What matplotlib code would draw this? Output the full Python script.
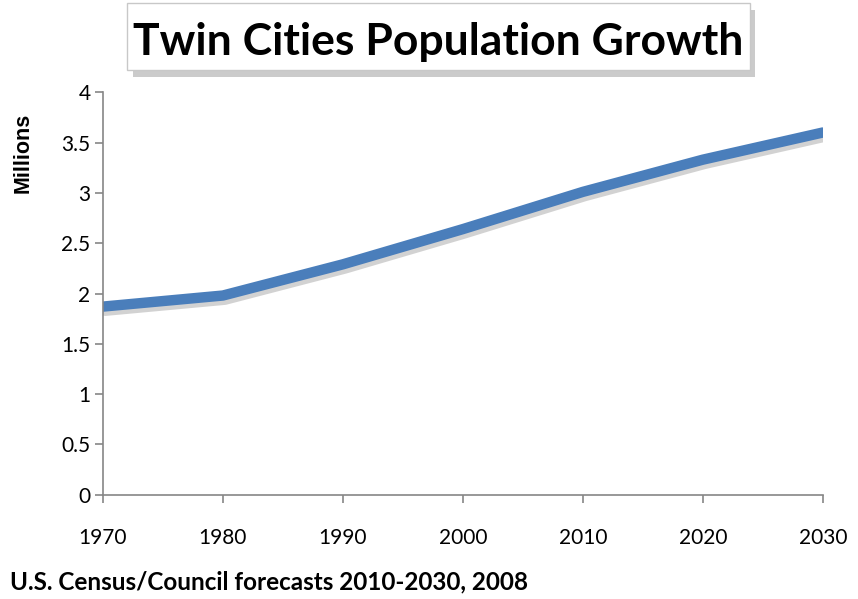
import matplotlib.pyplot as plt
import matplotlib.patheffects as pe
from matplotlib.patches import Rectangle

years = [1970, 1980, 1990, 2000, 2010, 2020, 2030]
population = [1.87, 1.98, 2.29, 2.64, 3.01, 3.33, 3.60]
y_ticks = [0, 0.5, 1, 1.5, 2, 2.5, 3, 3.5, 4]
y_labels = ["0", "0.5", "1", "1.5", "2", "2.5", "3", "3.5", "4"]

plt.rcParams['font.family'] = ['Lato', 'DejaVu Sans']

fig = plt.figure(figsize=(8.58, 5.99), dpi=100)
ax = fig.add_axes([0.12, 0.174, 0.839, 0.672])

# thick blue line with a soft grey shadow below it
ax.plot(years, population, color="#4A7EBB", lw=7.5, solid_capstyle="round", solid_joinstyle="round",
        path_effects=[pe.SimpleLineShadow(offset=(1.5, -3), shadow_color="#7f7f7f", alpha=0.35),
                      pe.Normal()])

ax.set_xlim(1970, 2030)
ax.set_ylim(0, 4)
ax.set_xticks(years)
ax.set_yticks(y_ticks)
ax.set_yticklabels(y_labels)

for s in ["top", "right"]:
    ax.spines[s].set_visible(False)
for s in ["left", "bottom"]:
    ax.spines[s].set_color("#868686")
    ax.spines[s].set_linewidth(1.2)
ax.tick_params(axis="both", colors="#868686", labelcolor="black", labelsize=15,
               length=6, width=1.2, direction="out")
ax.tick_params(axis="x", pad=18)
ax.tick_params(axis="y", pad=3)

ax.set_ylabel("Millions", fontsize=15.5, fontweight="bold", family="Liberation Sans")
ax.yaxis.set_label_coords(-0.097, 0.85)

# title box with shadow
box = Rectangle((0.148, 0.883), 0.726, 0.112, transform=fig.transFigure,
                fc="white", ec="#c8c8c8", lw=1,
                path_effects=[pe.SimplePatchShadow(offset=(4, -5), shadow_rgbFace="#8c8c8c", alpha=0.45),
                              pe.Normal()])
fig.patches.append(box)
fig.text(0.511, 0.909, "Twin Cities Population Growth", ha="center", va="baseline",
         fontsize=32, fontweight="bold")

fig.text(0.012, 0.028, "U.S. Census/Council forecasts 2010-2030, 2008", ha="left", va="center",
         fontsize=17.5, fontweight="bold")

fig.savefig("out.png", dpi=100)
